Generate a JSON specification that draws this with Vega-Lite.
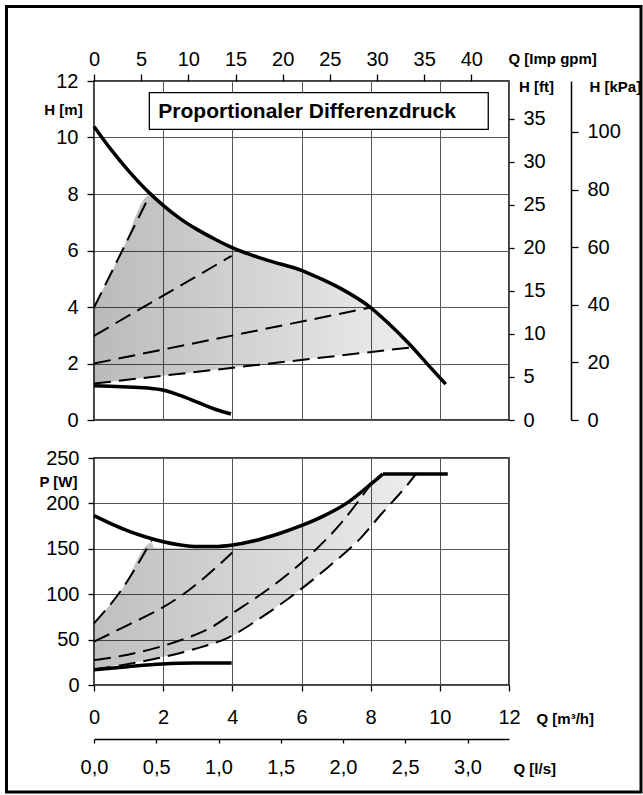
{
  "$schema": "https://vega.github.io/schema/vega-lite/v6.json",
  "padding": {"left": 4, "top": 4, "right": 0, "bottom": 0},
  "background": "white",
  "config": {
    "font": "Liberation Sans",
    "view": {"stroke": "black", "strokeWidth": 1.5},
    "locale": {"number": {"decimal": ",", "thousands": ".", "grouping": [3], "currency": ["", " €"]}},
    "axis": {
      "labelFont": "Liberation Sans", "labelFontSize": 20, "labelColor": "black", "labelFlush": false,
      "titleFont": "Liberation Sans", "titleFontSize": 15, "titleFontWeight": "bold", "titleColor": "black",
      "tickColor": "black", "tickWidth": 1.3, "domainColor": "black", "domainWidth": 1.5,
      "gridColor": "#555555", "gridWidth": 1, "gridOpacity": 1
    }
  },
  "datasets": {
    "h_area": [
      {"Q": 0, "H": 3.98, "H2": 1.29},
      {"Q": 0.8, "H": 5.96, "H2": 1.40},
      {"Q": 1.6, "H": 7.96, "H2": 1.51},
      {"Q": 2.0, "H": 7.6, "H2": 1.57},
      {"Q": 2.5, "H": 7.12, "H2": 1.64},
      {"Q": 3.0, "H": 6.73, "H2": 1.71},
      {"Q": 3.5, "H": 6.4, "H2": 1.78},
      {"Q": 4.0, "H": 6.1, "H2": 1.85},
      {"Q": 5.0, "H": 5.66, "H2": 1.99},
      {"Q": 6.0, "H": 5.3, "H2": 2.13},
      {"Q": 6.56, "H": 5.0, "H2": 2.21},
      {"Q": 7.14, "H": 4.65, "H2": 2.29},
      {"Q": 8.0, "H": 3.98, "H2": 2.41},
      {"Q": 8.49, "H": 3.45, "H2": 2.47},
      {"Q": 9.07, "H": 2.75, "H2": 2.56},
      {"Q": 9.25, "H": 2.58, "H2": 2.58}
    ],
    "h_solid": [
      {"series": "max", "Q": 0, "H": 10.39},
      {"series": "max", "Q": 0.5, "H": 9.56},
      {"series": "max", "Q": 1.0, "H": 8.82},
      {"series": "max", "Q": 1.6, "H": 8.04},
      {"series": "max", "Q": 2.0, "H": 7.6},
      {"series": "max", "Q": 2.5, "H": 7.12},
      {"series": "max", "Q": 3.0, "H": 6.73},
      {"series": "max", "Q": 3.5, "H": 6.4},
      {"series": "max", "Q": 4.0, "H": 6.1},
      {"series": "max", "Q": 5.0, "H": 5.66},
      {"series": "max", "Q": 6.0, "H": 5.3},
      {"series": "max", "Q": 6.56, "H": 5.0},
      {"series": "max", "Q": 7.14, "H": 4.65},
      {"series": "max", "Q": 8.0, "H": 3.98},
      {"series": "max", "Q": 8.49, "H": 3.45},
      {"series": "max", "Q": 9.07, "H": 2.75},
      {"series": "max", "Q": 9.64, "H": 1.98},
      {"series": "max", "Q": 10.17, "H": 1.27},
      {"series": "min", "Q": 0, "H": 1.21},
      {"series": "min", "Q": 0.79, "H": 1.18},
      {"series": "min", "Q": 1.55, "H": 1.13},
      {"series": "min", "Q": 1.98, "H": 1.06},
      {"series": "min", "Q": 2.51, "H": 0.86},
      {"series": "min", "Q": 3.0, "H": 0.62},
      {"series": "min", "Q": 3.48, "H": 0.39},
      {"series": "min", "Q": 3.96, "H": 0.21}
    ],
    "h_dashed": [
      {"series": "s1", "Q": 0, "H": 3.98},
      {"series": "s1", "Q": 1.6, "H": 7.93},
      {"series": "s2", "Q": 0, "H": 2.98},
      {"series": "s2", "Q": 3.98, "H": 5.81},
      {"series": "s3", "Q": 0, "H": 2.0},
      {"series": "s3", "Q": 8.0, "H": 3.98},
      {"series": "s4", "Q": 0, "H": 1.29},
      {"series": "s4", "Q": 9.25, "H": 2.58}
    ],
    "p_area": [
      {"Q": 0, "P": 67.9, "P2": 17},
      {"Q": 0.8, "P": 105, "P2": 22.5},
      {"Q": 1.66, "P": 157, "P2": 28.4},
      {"Q": 1.75, "P": 151, "P2": 29},
      {"Q": 2.5, "P": 151, "P2": 35.7},
      {"Q": 3.5, "P": 151, "P2": 46.4},
      {"Q": 4.0, "P": 154.2, "P2": 53.9},
      {"Q": 4.64, "P": 158.9, "P2": 69.6},
      {"Q": 5.32, "P": 166.3, "P2": 87.4},
      {"Q": 5.99, "P": 175.4, "P2": 106},
      {"Q": 6.66, "P": 186.5, "P2": 126.1},
      {"Q": 7.34, "P": 201.1, "P2": 149.3},
      {"Q": 8.01, "P": 221.4, "P2": 175},
      {"Q": 8.35, "P": 232.4, "P2": 190},
      {"Q": 9.12, "P": 232.4, "P2": 223.2},
      {"Q": 9.3, "P": 232.4, "P2": 232}
    ],
    "p_solid": [
      {"series": "max", "Q": 0, "P": 186.5},
      {"series": "max", "Q": 0.5, "P": 177.5},
      {"series": "max", "Q": 1.0, "P": 169.5},
      {"series": "max", "Q": 1.5, "P": 163},
      {"series": "max", "Q": 2.0, "P": 157.8},
      {"series": "max", "Q": 2.5, "P": 154.2},
      {"series": "max", "Q": 3.0, "P": 152.4},
      {"series": "max", "Q": 3.5, "P": 152.5},
      {"series": "max", "Q": 4.0, "P": 154.2},
      {"series": "max", "Q": 4.64, "P": 158.9},
      {"series": "max", "Q": 5.32, "P": 166.3},
      {"series": "max", "Q": 5.99, "P": 175.4},
      {"series": "max", "Q": 6.66, "P": 186.5},
      {"series": "max", "Q": 7.34, "P": 201.1},
      {"series": "max", "Q": 8.01, "P": 221.4},
      {"series": "max", "Q": 8.35, "P": 232.4},
      {"series": "cap", "Q": 8.35, "P": 232.4},
      {"series": "cap", "Q": 10.23, "P": 232.4},
      {"series": "min", "Q": 0, "P": 16.8},
      {"series": "min", "Q": 0.98, "P": 20.2},
      {"series": "min", "Q": 1.96, "P": 23.1},
      {"series": "min", "Q": 2.93, "P": 24.2},
      {"series": "min", "Q": 3.98, "P": 24.2}
    ],
    "p_dashed": [
      {"series": "d1", "Q": 0, "P": 67.9},
      {"series": "d1", "Q": 0.8, "P": 105},
      {"series": "d1", "Q": 1.66, "P": 158.9},
      {"series": "d2", "Q": 0, "P": 47.7},
      {"series": "d2", "Q": 0.98, "P": 66},
      {"series": "d2", "Q": 1.85, "P": 82.5},
      {"series": "d2", "Q": 2.52, "P": 98.3},
      {"series": "d2", "Q": 3.2, "P": 118.5},
      {"series": "d2", "Q": 4.0, "P": 146},
      {"series": "d3", "Q": 0, "P": 27.5},
      {"series": "d3", "Q": 0.98, "P": 33.4},
      {"series": "d3", "Q": 1.85, "P": 41.4},
      {"series": "d3", "Q": 2.52, "P": 49.6},
      {"series": "d3", "Q": 3.39, "P": 63.4},
      {"series": "d3", "Q": 4.06, "P": 80.5},
      {"series": "d3", "Q": 4.84, "P": 100.2},
      {"series": "d3", "Q": 5.61, "P": 122.2},
      {"series": "d3", "Q": 6.38, "P": 147.9},
      {"series": "d3", "Q": 7.15, "P": 178.5},
      {"series": "d3", "Q": 8.0, "P": 221},
      {"series": "d4", "Q": 0, "P": 17},
      {"series": "d4", "Q": 1.95, "P": 30.4},
      {"series": "d4", "Q": 2.91, "P": 39.6},
      {"series": "d4", "Q": 3.87, "P": 52},
      {"series": "d4", "Q": 4.84, "P": 74.5},
      {"series": "d4", "Q": 5.8, "P": 100.2},
      {"series": "d4", "Q": 6.76, "P": 129.5},
      {"series": "d4", "Q": 7.73, "P": 162.6},
      {"series": "d4", "Q": 8.31, "P": 188.3},
      {"series": "d4", "Q": 9.12, "P": 223.2},
      {"series": "d4", "Q": 9.3, "P": 232}
    ]
  },
  "spacing": 38,
  "bounds": "flush",
  "vconcat": [
    {
      "width": 415,
      "height": 339,
      "resolve": {"scale": {"x": "independent", "y": "independent"}},
      "layer": [
        {
          "layer": [
            {
              "data": {"name": "h_area"},
              "mark": {"type": "area", "interpolate": "monotone",
                "fill": {"gradient": "linear", "x1": 0, "y1": 0, "x2": 1, "y2": 0,
                  "stops": [{"offset": 0, "color": "rgba(0,0,0,0.27)"}, {"offset": 1, "color": "rgba(0,0,0,0.07)"}]}},
              "encoding": {
                "x": {"field": "Q", "type": "quantitative", "title": null,
                  "scale": {"domain": [0, 12], "nice": false, "zero": false},
                  "axis": {"values": [0, 2, 4, 6, 8, 10, 12], "grid": true, "labels": false, "ticks": false, "domain": false}},
                "y": {"field": "H", "type": "quantitative", "title": "H [m]",
                  "scale": {"domain": [0, 12], "nice": false, "zero": false},
                  "axis": {"orient": "left", "values": [0, 2, 4, 6, 8, 10, 12], "grid": true, "domain": false,
                    "tickSize": 7, "labelPadding": 9,
                    "titleAngle": 0, "titleAlign": "center", "titleBaseline": "middle", "titleX": -31, "titleY": 28}},
                "y2": {"field": "H2"}
              }
            },
            {
              "data": {"name": "h_solid"},
              "mark": {"type": "line", "interpolate": "monotone", "color": "black", "strokeWidth": 3.5},
              "encoding": {
                "x": {"field": "Q", "type": "quantitative", "title": null},
                "y": {"field": "H", "type": "quantitative", "title": "H [m]"},
                "detail": {"field": "series"}
              }
            },
            {
              "data": {"name": "h_dashed"},
              "mark": {"type": "line", "color": "black", "strokeWidth": 2, "strokeDash": [17, 8]},
              "encoding": {
                "x": {"field": "Q", "type": "quantitative", "title": null},
                "y": {"field": "H", "type": "quantitative", "title": "H [m]"},
                "detail": {"field": "series"}
              }
            },
            {
              "data": {"values": [{}]},
              "mark": {"type": "rect", "fill": "white", "stroke": "black", "strokeWidth": 1.3},
              "encoding": {
                "x": {"datum": 1.6, "type": "quantitative", "title": null},
                "x2": {"datum": 11.4},
                "y": {"datum": 11.59, "type": "quantitative", "title": "H [m]"},
                "y2": {"datum": 10.29}
              }
            },
            {
              "data": {"values": [{}]},
              "mark": {"type": "text", "text": "Proportionaler Differenzdruck", "align": "left", "baseline": "alphabetic",
                "font": "Liberation Sans", "fontSize": 21, "fontWeight": "bold", "color": "black"},
              "encoding": {
                "x": {"datum": 1.86, "type": "quantitative", "title": null},
                "y": {"datum": 10.68, "type": "quantitative", "title": "H [m]"}
              }
            },
            {
              "data": {"values": [{}]},
              "mark": {"type": "rect", "fill": null, "fillOpacity": 0, "stroke": "black", "strokeWidth": 3, "clip": false},
              "encoding": {
                "x": {"datum": -2.53, "type": "quantitative", "title": null},
                "x2": {"datum": 15.817},
                "y": {"datum": 14.637, "type": "quantitative", "title": "H [m]"},
                "y2": {"datum": -13.17}
              }
            }
          ]
        },
        {
          "data": {"values": []},
          "mark": {"type": "point", "opacity": 0},
          "encoding": {
            "x": {"field": "gpm", "type": "quantitative", "title": "Q [Imp gpm]",
              "scale": {"domain": [0, 43.99], "nice": false, "zero": false},
              "axis": {"orient": "top", "values": [0, 5, 10, 15, 20, 25, 30, 35, 40], "grid": false, "domain": false,
                "tickSize": 7, "labelPadding": 5,
                "titleAlign": "left", "titleBaseline": "middle", "titleX": 414, "titleY": -23}},
            "y": {"field": "ft", "type": "quantitative", "title": "H [ft]",
              "scale": {"domain": [0, 39.37], "nice": false, "zero": false},
              "axis": {"orient": "right", "values": [0, 5, 10, 15, 20, 25, 30, 35], "grid": false, "domain": false,
                "tickSize": 5, "labelPadding": 9,
                "titleAngle": 0, "titleAlign": "center", "titleBaseline": "middle", "titleX": 27, "titleY": 5}}
          }
        },
        {
          "data": {"values": []},
          "mark": {"type": "point", "opacity": 0},
          "encoding": {
            "y": {"field": "kpa", "type": "quantitative", "title": "H [kPa]",
              "scale": {"domain": [0, 117.68], "nice": false, "zero": false},
              "axis": {"orient": "right", "offset": 62, "values": [0, 20, 40, 60, 80, 100], "grid": false, "domain": true,
                "tickSize": 7, "labelPadding": 9,
                "titleAngle": 0, "titleAlign": "left", "titleBaseline": "middle", "titleX": 18, "titleY": 5}}
          }
        }
      ]
    },
    {
      "width": 415,
      "height": 227,
      "resolve": {"scale": {"x": "independent"}},
      "layer": [
        {
          "layer": [
            {
              "data": {"name": "p_area"},
              "mark": {"type": "area", "interpolate": "monotone",
                "fill": {"gradient": "linear", "x1": 0, "y1": 0, "x2": 1, "y2": 0,
                  "stops": [{"offset": 0, "color": "rgba(0,0,0,0.25)"}, {"offset": 1, "color": "rgba(0,0,0,0.07)"}]}},
              "encoding": {
                "x": {"field": "Q", "type": "quantitative", "title": "Q [m³/h]",
                  "scale": {"domain": [0, 12], "nice": false, "zero": false},
                  "axis": {"orient": "bottom", "values": [0, 2, 4, 6, 8, 10, 12], "grid": true, "domain": false,
                    "tickSize": 6, "labelPadding": 16,
                    "titleAlign": "left", "titleBaseline": "middle", "titleX": 442, "titleY": 33}},
                "y": {"field": "P", "type": "quantitative", "title": "P [W]",
                  "scale": {"domain": [0, 250], "nice": false, "zero": false},
                  "axis": {"orient": "left", "values": [0, 50, 100, 150, 200, 250], "grid": true, "domain": false,
                    "tickSize": 6, "labelPadding": 9,
                    "titleAngle": 0, "titleAlign": "center", "titleBaseline": "middle", "titleX": -36, "titleY": 23}},
                "y2": {"field": "P2"}
              }
            },
            {
              "data": {"name": "p_solid"},
              "mark": {"type": "line", "interpolate": "monotone", "color": "black", "strokeWidth": 3.5},
              "encoding": {
                "x": {"field": "Q", "type": "quantitative", "title": "Q [m³/h]"},
                "y": {"field": "P", "type": "quantitative", "title": "P [W]"},
                "detail": {"field": "series"}
              }
            },
            {
              "data": {"name": "p_dashed"},
              "mark": {"type": "line", "interpolate": "monotone", "color": "black", "strokeWidth": 2, "strokeDash": [17, 8]},
              "encoding": {
                "x": {"field": "Q", "type": "quantitative", "title": "Q [m³/h]"},
                "y": {"field": "P", "type": "quantitative", "title": "P [W]"},
                "detail": {"field": "series"}
              }
            }
          ]
        },
        {
          "data": {"values": []},
          "mark": {"type": "point", "opacity": 0},
          "encoding": {
            "x": {"field": "ls", "type": "quantitative", "title": "Q [l/s]",
              "scale": {"domain": [0, 3.3333], "nice": false, "zero": false},
              "axis": {"orient": "bottom", "offset": 54, "values": [0, 0.5, 1, 1.5, 2, 2.5, 3], "format": ".1f",
                "grid": false, "domain": true, "tickSize": 4, "labelPadding": 14,
                "titleAlign": "left", "titleBaseline": "middle", "titleX": 419, "titleY": 29}}
          }
        }
      ]
    }
  ]
}
